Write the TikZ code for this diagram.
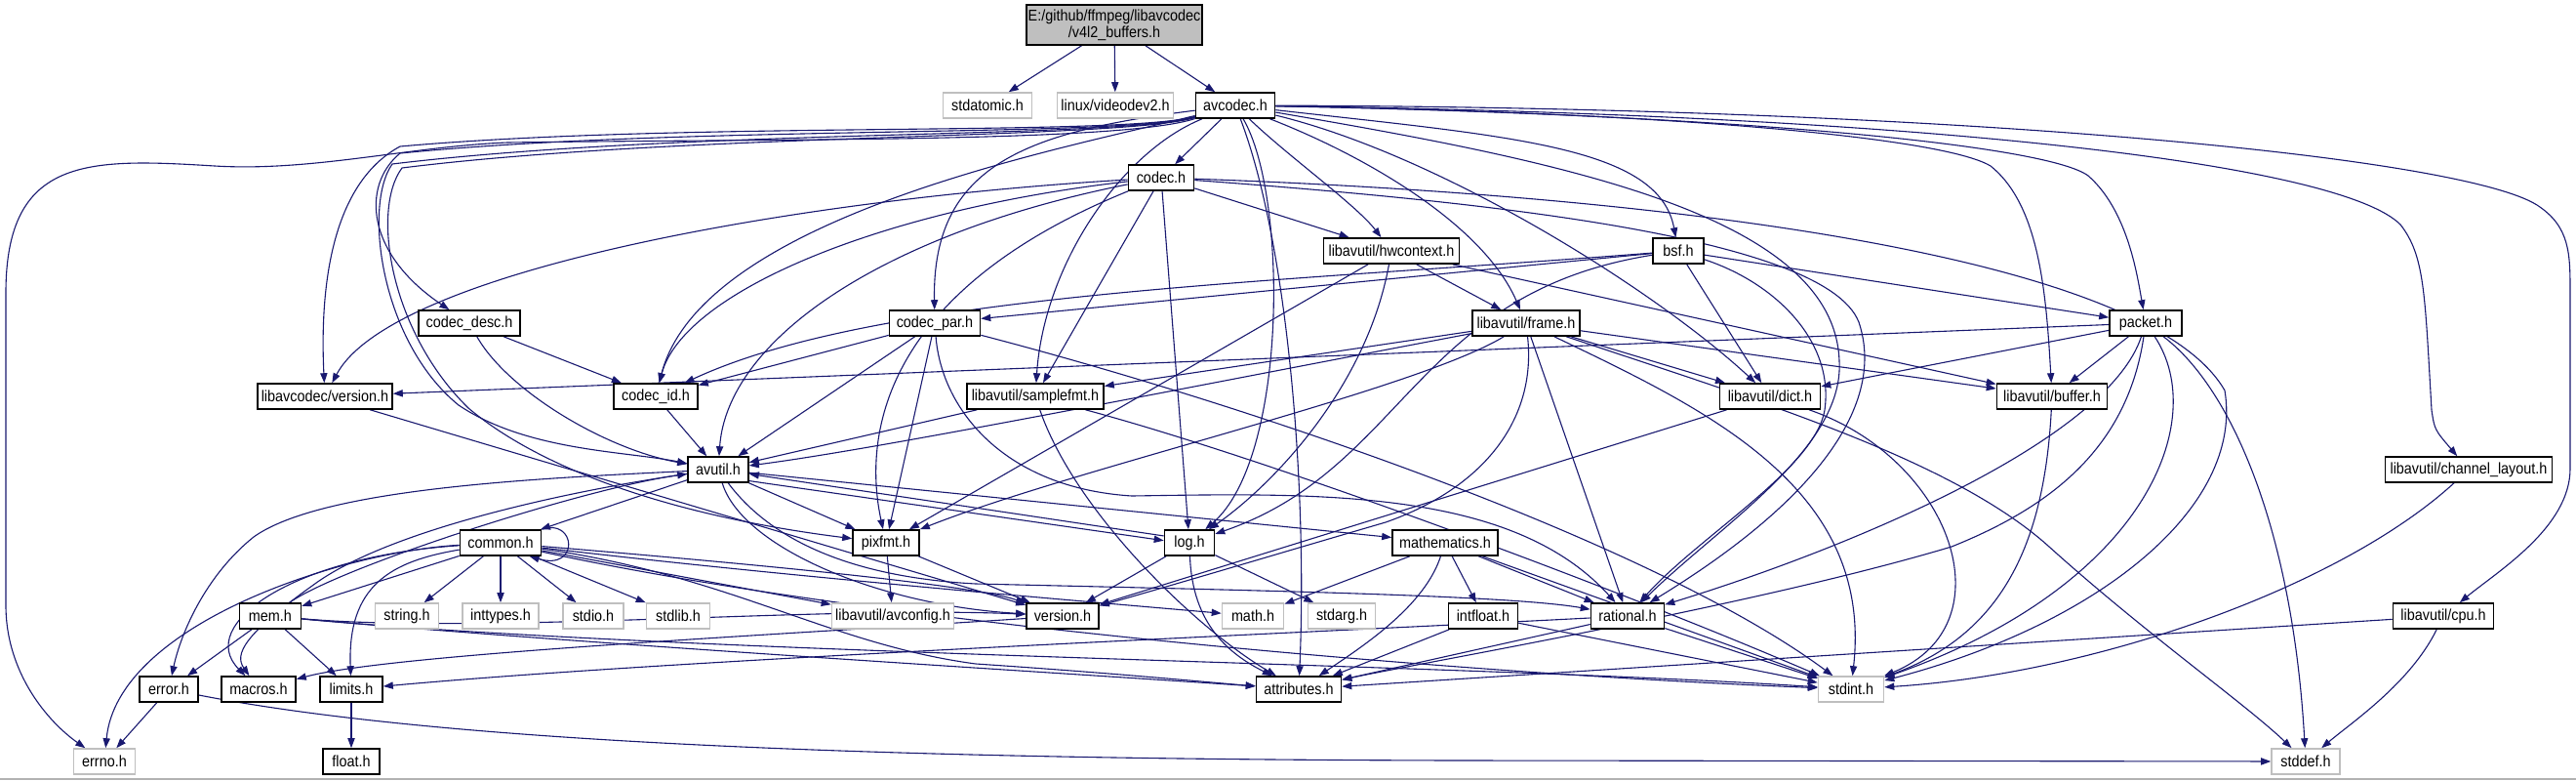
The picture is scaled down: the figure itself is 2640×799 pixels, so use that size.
\documentclass[tikz,border=0pt]{standalone}
\usepackage{fontspec}
\setmainfont{Liberation Sans}[FakeStretch=0.9]
\usetikzlibrary{arrows.meta}
\definecolor{edgec}{HTML}{191970}
\pgfdeclarelayer{back}
\pgfdeclarelayer{bg}
\pgfsetlayers{back,bg,main}
\begin{document}
\begin{tikzpicture}[x=0.5pt,y=-0.5pt,
  nb/.style={draw=black, line width=0.8pt, fill=white, rectangle, inner sep=0pt, minimum height=13pt, font=\fontsize{8pt}{7.3pt}\selectfont},
  ng/.style={nb, draw=black!25},
  bw/.style={minimum width=#1*0.5pt},
  e/.style={draw=edgec, line width=0.55pt, -{Triangle[length=5pt,width=3.6pt]}}]
\useasboundingbox (0,0) rectangle (2640,799);
\begin{pgfonlayer}{back}
\fill[white] (0,0) rectangle (2640,799);
\draw[black!30, line width=1pt] (0,798) -- (2640,798);
\end{pgfonlayer}
% nodes
\node[nb,bw=180,minimum height=20.5pt,fill=black!25,align=center] (main) at (1142,25.5) {E:/github/ffmpeg/libavcodec\\/v4l2\_buffers.h};
\node[ng,bw=91] (stdatomic) at (1012,108) {stdatomic.h};
\node[ng,bw=119] (videodev2) at (1143,108) {linux/videodev2.h};
\node[nb,bw=81] (avcodec) at (1266,108) {avcodec.h};
\node[nb,bw=67] (codec) at (1190,182) {codec.h};
\node[nb,bw=139] (hwcontext) at (1426,257) {libavutil/hwcontext.h};
\node[nb,bw=52] (bsf) at (1720,257) {bsf.h};
\node[nb,bw=104] (codec_desc) at (481,331) {codec\_desc.h};
\node[nb,bw=93] (codec_par) at (958,331) {codec\_par.h};
\node[nb,bw=110] (frame) at (1564,331) {libavutil/frame.h};
\node[nb,bw=74] (packet) at (2199,331) {packet.h};
\node[nb,bw=138] (lavc_version) at (333,406) {libavcodec/version.h};
\node[nb,bw=86] (codec_id) at (672,406) {codec\_id.h};
\node[nb,bw=140] (samplefmt) at (1061,406) {libavutil/samplefmt.h};
\node[nb,bw=103] (dict) at (1814,406) {libavutil/dict.h};
\node[nb,bw=113] (buffer) at (2103,406) {libavutil/buffer.h};
\node[nb,bw=62] (avutil) at (736,481) {avutil.h};
\node[nb,bw=171] (channel_layout) at (2530,481) {libavutil/channel\_layout.h};
\node[nb,bw=83] (common) at (513,556) {common.h};
\node[nb,bw=68] (pixfmt) at (908,556) {pixfmt.h};
\node[nb,bw=51] (log) at (1219,556) {log.h};
\node[nb,bw=108] (mathematics) at (1481,556) {mathematics.h};
\node[nb,bw=63] (mem) at (277,631) {mem.h};
\node[ng,bw=65] (string) at (417,631) {string.h};
\node[ng,bw=78] (inttypes) at (513,631) {inttypes.h};
\node[ng,bw=62] (stdio) at (608,631) {stdio.h};
\node[ng,bw=65] (stdlib) at (695,631) {stdlib.h};
\node[ng,bw=125] (avconfig) at (915,631) {libavutil/avconfig.h};
\node[nb,bw=74] (version) at (1089,631) {version.h};
\node[ng,bw=63] (math) at (1284,631) {math.h};
\node[ng,bw=69] (stdarg) at (1375,631) {stdarg.h};
\node[nb,bw=71] (intfloat) at (1520,631) {intfloat.h};
\node[nb,bw=75] (rational) at (1668,631) {rational.h};
\node[nb,bw=103] (cpu) at (2504,631) {libavutil/cpu.h};
\node[nb,bw=60] (error) at (173,706) {error.h};
\node[nb,bw=76] (macros) at (265,706) {macros.h};
\node[nb,bw=64] (limits) at (360,706) {limits.h};
\node[nb,bw=87] (attributes) at (1331,706) {attributes.h};
\node[ng,bw=67] (stdint) at (1897,706) {stdint.h};
\node[ng,bw=63] (errno) at (107,780) {errno.h};
\node[nb,bw=58] (float) at (360,780) {float.h};
\node[ng,bw=70] (stddef) at (2363,780) {stddef.h};
\begin{pgfonlayer}{bg}
% main
\draw[e] (main) -- (stdatomic);
\draw[e] (main) -- (videodev2);
\draw[e] (main) -- (avcodec);
% avcodec
\draw[e] (avcodec) .. controls (1150,146) and (800,142) .. (520,146) .. controls (420,150) and (320,176) .. (220,170) .. controls (90,162) and (6,160) .. (6,300) -- (6,620) .. controls (6,690) and (50,740) .. (errno);
\draw[e] (avcodec) .. controls (1150,140) and (700,124) .. (410,150) .. controls (345,185) and (327,280) .. (lavc_version);
\draw[e] (avcodec) .. controls (1150,141) and (700,128) .. (410,157) .. controls (370,190) and (375,260) .. (codec_desc);
\draw[e] (avcodec) .. controls (1150,142) and (700,132) .. (402,168) .. controls (372,210) and (390,350) .. (470,415) .. controls (540,462) and (640,462) .. (avutil);
\draw[e] (avcodec) .. controls (1150,143) and (700,136) .. (412,172) .. controls (380,215) and (400,340) .. (480,418) .. controls (560,485) and (700,530) .. (pixfmt);
\draw[e] (avcodec) .. controls (1100,150) and (720,220) .. (codec_id);
\draw[e] (avcodec) -- (codec);
\draw[e] (avcodec) .. controls (1050,135) and (955,170) .. (codec_par);
\draw[e] (avcodec) .. controls (1150,155) and (1070,270) .. (samplefmt);
\draw[e] (avcodec) .. controls (1320,200) and (1320,470) .. (log);
\draw[e] (avcodec) .. controls (1320,160) and (1390,210) .. (hwcontext);
\draw[e] (avcodec) .. controls (1400,160) and (1520,230) .. (frame);
\draw[e] (avcodec) .. controls (1550,140) and (1700,150) .. (bsf);
\draw[e] (avcodec) .. controls (1480,160) and (1700,300) .. (dict);
\draw[e] (avcodec) .. controls (1600,165) and (1880,220) .. (1885,370) .. controls (1890,460) and (1760,540) .. (rational);
\draw[e] (avcodec) .. controls (1700,115) and (1990,140) .. (2040,170) .. controls (2090,210) and (2097,300) .. (buffer);
\draw[e] (avcodec) .. controls (1800,118) and (2100,150) .. (2140,180) .. controls (2180,215) and (2190,280) .. (packet);
\draw[e] (avcodec) .. controls (2000,118) and (2400,170) .. (2460,230) .. controls (2485,262) and (2485,300) .. (2492,420) .. controls (2495,440) .. (channel_layout);
\draw[e] (avcodec) .. controls (2000,110) and (2520,160) .. (2600,210) .. controls (2634,232) and (2634,260) .. (2634,300) -- (2634,480) .. controls (2634,540) and (2560,585) .. (cpu);
\draw[e] (avcodec) .. controls (1320,250) and (1340,500) .. (attributes);
% codec
\draw[e] (codec) .. controls (1700,200) and (2200,260) .. (2280,400) .. controls (2300,520) and (2150,640) .. (stdint);
\draw[e] (codec) .. controls (1500,205) and (1870,240) .. (1905,330) .. controls (1935,420) and (1850,520) .. (rational);
\draw[e] (codec) .. controls (900,240) and (745,350) .. (avutil);
\draw[e] (codec) -- (hwcontext);
\draw[e] (codec) -- (log);
\draw[e] (codec) .. controls (900,300) and (885,450) .. (pixfmt);
\draw[e] (codec) -- (samplefmt);
\draw[e] (codec) .. controls (900,215) and (700,300) .. (codec_id);
\draw[e] (codec) .. controls (800,205) and (400,280) .. (lavc_version);
% bsf
\draw[e] (bsf) -- (dict);
\draw[e] (bsf) .. controls (1450,300) and (1440,480) .. (log);
\draw[e] (bsf) .. controls (1820,290) and (1880,350) .. (1870,420) .. controls (1860,480) and (1740,550) .. (rational);
\draw[e] (bsf) .. controls (1300,290) and (900,300) .. (codec_id);
\draw[e] (bsf) -- (codec_par);
\draw[e] (bsf) -- (packet);
% codec_desc
\draw[e] (codec_desc) -- (codec_id);
\draw[e] (codec_desc) .. controls (520,400) and (620,460) .. (avutil);
% codec_par
\draw[e] (codec_par) .. controls (1300,420) and (1700,560) .. (stdint);
\draw[e] (codec_par) -- (avutil);
\draw[e] (codec_par) .. controls (965,420) and (1030,500) .. (1160,508) .. controls (1350,505) and (1550,500) .. (rational);
\draw[e] (codec_par) -- (pixfmt);
\draw[e] (codec_par) -- (codec_id);
% codec_id
\draw[e] (codec_id) -- (avutil);
% packet
\draw[e] (packet) .. controls (2290,400) and (2350,550) .. (stddef);
\draw[e] (packet) .. controls (2265,430) and (2200,600) .. (stdint);
\draw[e] (packet) .. controls (2180,460) and (2100,520) .. (2000,560) .. controls (1800,620) and (1450,680) .. (attributes);
\draw[e] (packet) -- (buffer);
\draw[e] (packet) -- (dict);
\draw[e] (packet) .. controls (2160,450) and (1900,560) .. (rational);
\draw[e] (packet) -- (lavc_version);
% lavc_version
\draw[e] (lavc_version) -- (version);
% hwcontext
\draw[e] (hwcontext) -- (buffer);
\draw[e] (hwcontext) -- (frame);
\draw[e] (hwcontext) .. controls (1400,400) and (1300,500) .. (log);
\draw[e] (hwcontext) -- (pixfmt);
% frame
\draw[e] (frame) .. controls (1800,410) and (2000,470) .. (2100,560) .. controls (2200,650) and (2300,720) .. (stddef);
\draw[e] (frame) .. controls (1750,420) and (1920,500) .. (stdint);
\draw[e] (frame) .. controls (1200,400) and (900,460) .. (avutil);
\draw[e] (frame) -- (buffer);
\draw[e] (frame) -- (dict);
\draw[e] (frame) -- (rational);
\draw[e] (frame) -- (samplefmt);
\draw[e] (frame) .. controls (1450,400) and (1100,480) .. (pixfmt);
\draw[e] (frame) .. controls (1575,430) and (1520,500) .. (1420,535) .. controls (1300,570) and (1200,600) .. (version);
% samplefmt
\draw[e] (samplefmt) .. controls (1300,470) and (1650,600) .. (stdint);
\draw[e] (samplefmt) -- (avutil);
\draw[e] (samplefmt) .. controls (1100,520) and (1220,640) .. (attributes);
% dict, buffer, channel_layout, cpu
\draw[e] (dict) .. controls (2000,470) and (2060,640) .. (stdint);
\draw[e] (dict) -- (version);
\draw[e] (buffer) .. controls (2095,560) and (2050,650) .. (stdint);
\draw[e] (channel_layout) .. controls (2400,600) and (2150,690) .. (stdint);
\draw[e] (cpu) .. controls (2470,700) and (2410,740) .. (stddef);
\draw[e] (cpu) -- (attributes);
% avutil
\draw[e] (avutil) -- (common);
\draw[e] (avutil) .. controls (550,490) and (330,500) .. (260,550) .. controls (210,590) and (185,650) .. (error);
\draw[e] (avutil) .. controls (600,500) and (400,540) .. (320,600) .. controls (250,650) and (240,670) .. (macros);
\draw[e] (avutil) .. controls (780,540) and (850,590) .. (1000,598) .. controls (1300,605) and (1550,610) .. (rational);
\draw[e] (avutil) .. controls (760,560) and (900,620) .. (version);
\draw[e] (avutil) -- (mathematics);
\draw[e] (avutil.-20) -- (log.175);
\draw[e] (avutil) -- (pixfmt);
% log
\draw[e] (log.165) -- (avutil.-8);
\draw[e] (log) -- (stdarg);
\draw[e] (log) .. controls (1222,640) and (1260,670) .. (attributes);
\draw[e] (log) -- (version);
% pixfmt
\draw[e] (pixfmt) -- (avconfig);
\draw[e] (pixfmt) -- (version);
% mathematics
\draw[e] (mathematics) -- (math);
\draw[e] (mathematics) -- (intfloat);
\draw[e] (mathematics) -- (rational);
\draw[e] (mathematics) .. controls (1460,620) and (1400,660) .. (attributes);
\draw[e] (mathematics) -- (stdint);
% intfloat
\draw[e] (intfloat) -- (stdint);
\draw[e] (intfloat) -- (attributes);
% rational
\draw[e] (rational) -- (stdint);
\draw[e] (rational) -- (attributes);
\draw[e] (rational) .. controls (1300,650) and (700,675) .. (limits);
% common
\draw[e] (common.north east) .. controls (590,530) and (595,585) .. (common.-25);
\draw[e] (common) -- (mem);
\draw[e] (common) -- (string);
\draw[e] (common) -- (inttypes);
\draw[e] (common) -- (stdio);
\draw[e] (common) -- (stdlib);
\draw[e] (common) .. controls (350,565) and (120,640) .. (errno);
\draw[e] (common) .. controls (400,575) and (356,600) .. (limits);
\draw[e] (common) .. controls (300,570) and (200,640) .. (macros);
\draw[e] (common) -- (avconfig);
\draw[e] (common) .. controls (800,580) and (1000,600) .. (version);
\draw[e] (common) .. controls (800,590) and (1100,615) .. (math);
\draw[e] (common) .. controls (750,590) and (850,660) .. (1000,680) .. controls (1150,690) and (1250,700) .. (attributes);
\draw[e] (common) .. controls (900,640) and (1500,690) .. (stdint);
% mem
\draw[e] (mem) -- (error);
\draw[e] (mem) -- (limits);
\draw[e] (mem) .. controls (600,660) and (1100,690) .. (attributes);
\draw[e] (mem) .. controls (700,670) and (1500,680) .. (stdint);
\draw[e] (mem) .. controls (350,580) and (600,500) .. (avutil);
\draw[e] (mem) .. controls (500,650) and (850,620) .. (version);
% error, limits, version
\draw[e] (error) -- (errno);
\draw[e] (error) .. controls (450,760) and (900,778) .. (1500,779) -- (stddef);
\draw[e] (limits) -- (float);
\draw[e] (version) .. controls (800,650) and (400,670) .. (macros);
\end{pgfonlayer}
\end{tikzpicture}
\end{document}
